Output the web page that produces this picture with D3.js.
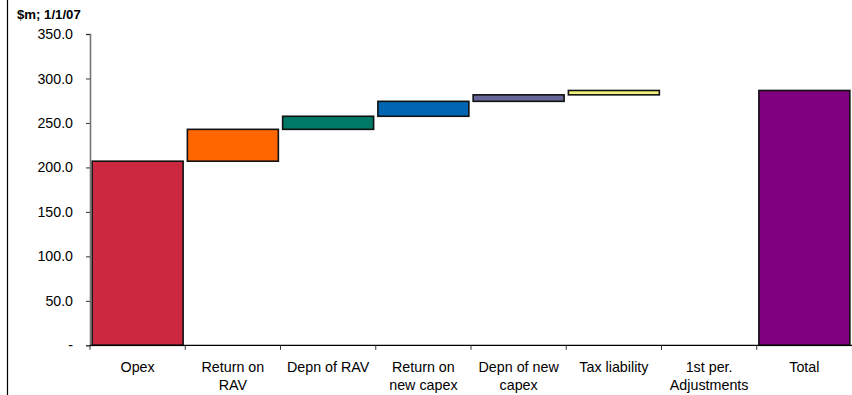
<!DOCTYPE html>
<html>
<head>
<meta charset="utf-8">
<script src="https://cdn.jsdelivr.net/npm/d3@7"></script>
<style>
  html, body { margin: 0; padding: 0; background: #fff; }
  svg { display: block; font-family: "Liberation Sans", Arial, sans-serif; }
</style>
</head>
<body>
<svg id="chart" width="852" height="395"></svg>
<script>
// Revenue build-up components, $m
const categories = ["Opex", "Return on\nRAV", "Depn of RAV", "Return on\nnew capex", "Depn of new\ncapex", "Tax liability", "1st per.\nAdjustments", "Total"];
const values = [207.0, 35.8, 14.7, 16.8, 7.3, 4.9, 0.0];
const colors = ["#CC2840", "#FF6600", "#007A68", "#0066B3", "#666699", "#F0F07A", "#999999", "#800080"];
const yTicks = [0, 50, 100, 150, 200, 250, 300, 350];
const unitLabel = "$m; 1/1/07";

// Waterfall segments: each step floats on the running total, last bar is the total
let running = 0;
const segments = values.map((v, i) => {
  const s = { name: categories[i], y0: running, y1: running + v, color: colors[i] };
  running += v;
  return s;
});
segments.push({ name: categories[7], y0: 0, y1: running, color: colors[7] });

const svg = d3.select("#chart");
const margin = { left: 90, right: 0, top: 34, bottom: 50 };
const width = 852, height = 395;

const x = d3.scaleBand()
  .domain(categories)
  .range([margin.left, width - margin.right])
  .paddingInner(0.045)
  .paddingOuter(0.0225);

const y = d3.scaleLinear()
  .domain([0, 350])
  .range([345.3, margin.top]);

// frame edge on the left
svg.append("line")
  .attr("x1", 7.5).attr("x2", 7.5)
  .attr("y1", 0).attr("y2", height)
  .attr("stroke", "#000").attr("stroke-width", 1.2);

// unit label
svg.append("text")
  .attr("x", 17).attr("y", 19)
  .attr("font-size", 13.2)
  .attr("font-weight", "bold")
  .attr("fill", "#000")
  .text(unitLabel);

// bars (zero-height steps are skipped)
svg.append("g")
  .selectAll("rect")
  .data(segments.filter(d => d.y1 - d.y0 > 0))
  .join("rect")
  .attr("x", d => x(d.name))
  .attr("width", x.bandwidth())
  .attr("y", d => y(d.y1))
  .attr("height", d => y(d.y0) - y(d.y1))
  .attr("fill", d => d.color)
  .attr("stroke", "#111")
  .attr("stroke-width", 1.6);

// y axis
const yAxis = d3.axisLeft(y)
  .tickValues(yTicks)
  .tickSize(4)
  .tickPadding(13)
  .tickFormat(d => d === 0 ? "-" : d3.format(".1f")(d));

const gy = svg.append("g")
  .attr("transform", `translate(${margin.left},0)`)
  .call(yAxis);
gy.select(".domain").attr("stroke", "#777").attr("stroke-width", 1.6);
gy.selectAll(".tick line").attr("stroke", "#333");
gy.selectAll(".tick text")
  .attr("font-size", 14.2)
  .attr("font-family", "'Liberation Sans', Arial, sans-serif")
  .attr("fill", "#000");

// x axis with ticks at band boundaries
const gx = svg.append("g")
  .attr("transform", `translate(0,${y(0)})`);
gx.append("line")
  .attr("x1", margin.left).attr("x2", width)
  .attr("stroke", "#000").attr("stroke-width", 1.2);
const step = x.step();
const bounds = d3.range(categories.length).map(i => margin.left + i * step);
gx.selectAll(".bt")
  .data(bounds)
  .join("line")
  .attr("class", "bt")
  .attr("x1", d => d).attr("x2", d => d)
  .attr("y1", 0).attr("y2", 4.5)
  .attr("stroke", "#333").attr("stroke-width", 1);

// category labels, wrapped over two lines
const labels = gx.selectAll(".cat")
  .data(categories)
  .join("text")
  .attr("class", "cat")
  .attr("text-anchor", "middle")
  .attr("font-size", 14.3)
  .attr("fill", "#000")
  .attr("x", d => x(d) + x.bandwidth() / 2)
  .attr("y", 27);
labels.each(function(d) {
  const t = d3.select(this);
  d.split("\n").forEach((line, i) => {
    t.append("tspan")
      .attr("x", x(d) + x.bandwidth() / 2)
      .attr("dy", i === 0 ? 0 : 17.5)
      .text(line);
  });
});
</script>
</body>
</html>
